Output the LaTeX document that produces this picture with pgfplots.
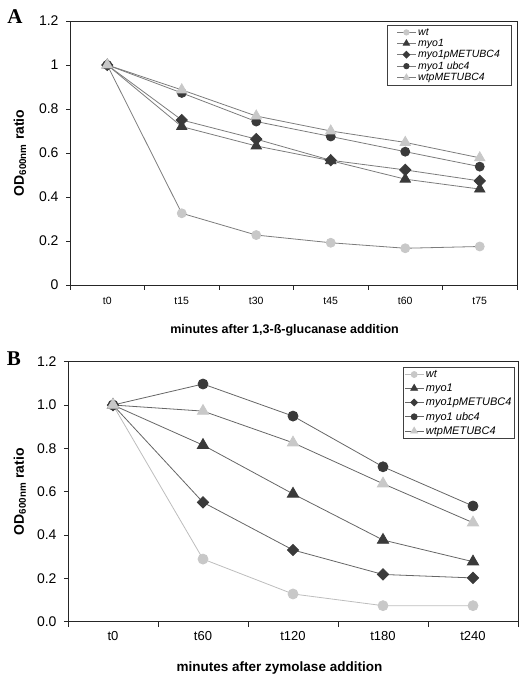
\documentclass[border=0pt]{standalone}
\usepackage{fontspec}
\setmainfont{Liberation Sans}
\newfontfamily\seriffont{Liberation Serif}
\usepackage{pgfplots}
\pgfplotsset{compat=1.18}
\definecolor{lgray}{HTML}{C8C8C8}
\definecolor{dgray}{HTML}{3A3A3A}
\definecolor{lineg}{HTML}{7C7C7C}
\definecolor{linel}{HTML}{BDBDBD}

\pgfplotstableread{
x wt myo dia circ wtp
0 1 1 1 1 1
1 0.326 0.720 0.750 0.873 0.887
2 0.227 0.632 0.663 0.743 0.768
3 0.192 0.565 0.567 0.675 0.700
4 0.167 0.481 0.523 0.606 0.648
5 0.175 0.436 0.473 0.538 0.578
}\tableA
\pgfplotstableread{
x wt myo dia circ wtp
0 1 1 1 1 1
1 0.289 0.815 0.551 1.097 0.972
2 0.128 0.590 0.331 0.949 0.826
3 0.074 0.377 0.218 0.715 0.637
4 0.074 0.277 0.202 0.534 0.457
}\tableB

\pgfplotsset{
  common/.style={
    scale only axis,
    /pgf/number format/assume math mode=true,
    axis line style={draw=black!85, line width=0.9pt},
    ytick pos=left, xtick pos=bottom,
    tick align=outside,
    major tick length=4pt, minor tick length=5pt,
    ytick style={draw=black!85, line width=0.8pt},
    major x tick style={draw=none},
    minor x tick style={draw=black!85, line width=0.8pt},
    ymin=0, ymax=1.2, ytick={0,0.2,...,1.2},
    yticklabel style={font=\fontsize{14}{14}\selectfont, xshift=-4pt},
    ylabel={\bfseries OD\textsubscript{600nm} ratio},
    ylabel style={font=\fontsize{14}{14}\selectfont, anchor=center},
    xlabel style={font=\bfseries\fontsize{13}{13}\selectfont, anchor=center},
    legend cell align=left,
    legend style={draw=black!75, line width=0.6pt, inner sep=1pt, font=\itshape\fontsize{10}{10}\selectfont, anchor=north east, row sep=-1.5pt},
    legend image code/.code={\draw[mark repeat=2,mark phase=2] plot coordinates {(0cm,0cm)(0.55cm,0cm)(1.1cm,0cm)};},
    legend image post style={scale=0.6},
  },
  swt/.style={color=lineg, line width=0.8pt, mark=*, mark size=4.5pt, mark options={draw=lgray, fill=lgray}},
  smyo/.style={color=lineg, line width=0.8pt, mark=triangle*, mark size=6pt, mark options={draw=dgray, fill=dgray}},
  sdia/.style={color=lineg, line width=0.8pt, mark=square*, mark size=4pt, mark options={draw=dgray, fill=dgray, rotate=45}},
  scirc/.style={color=lineg, line width=0.8pt, mark=*, mark size=4.5pt, mark options={draw=dgray, fill=dgray}},
  swtp/.style={color=lineg, line width=0.8pt, mark=triangle*, mark size=6pt, mark options={draw=lgray, fill=lgray}},
}

\begin{document}
\begin{tikzpicture}[x=1pt,y=1pt]
\path[use as bounding box] (0,0) rectangle (526,683);
\node[font=\seriffont\bfseries\fontsize{21}{21}\selectfont] at (15,666) {A};
\node[font=\seriffont\bfseries\fontsize{21}{21}\selectfont] at (14,324) {B};

\begin{axis}[common,
  at={(70pt,398pt)}, anchor=south west, width=447pt, height=264pt,
  xmin=-0.5, xmax=5.5, xtick={0,...,5},
  xticklabels={t0,t15,t30,t45,t60,t75},
  minor xtick={-0.5,0.5,...,5.5},
  xticklabel style={font=\fontsize{10.5}{10.5}\selectfont, yshift=-5pt},
  yticklabel style={/pgf/number format/.cd, fixed},
  xlabel={minutes after 1,3-ß-glucanase addition},
  xlabel style={at={(axis description cs:0.48,-0.17)}, font=\bfseries\fontsize{12.5}{12.5}\selectfont},
  ylabel style={at={(axis description cs:-0.112,0.5)}},
  legend style={at={(0.987,0.985)}, inner xsep=9pt, font=\itshape\fontsize{10.5}{10.5}\selectfont},
]
\addplot[swt] table[x=x,y=wt] {\tableA};
\addplot[smyo] table[x=x,y=myo] {\tableA};
\addplot[sdia] table[x=x,y=dia] {\tableA};
\addplot[scirc] table[x=x,y=circ] {\tableA};
\addplot[swtp] table[x=x,y=wtp] {\tableA};
\legend{wt,myo1,myo1pMETUBC4,myo1 ubc4,wtpMETUBC4}
\end{axis}

\begin{axis}[common,
  at={(68pt,61.3pt)}, anchor=south west, width=450pt, height=260pt,
  xmin=-0.5, xmax=4.5, xtick={0,...,4},
  xticklabels={t0,t60,t120,t180,t240},
  minor xtick={-0.5,0.5,...,4.5},
  xticklabel style={font=\fontsize{13}{13}\selectfont, yshift=-2pt},
  yticklabel style={/pgf/number format/.cd, fixed, fixed zerofill, precision=1},
  xlabel={minutes after zymolase addition},
  xlabel style={at={(axis description cs:0.47,-0.178)}, font=\bfseries\fontsize{13.5}{13.5}\selectfont},
  ylabel style={at={(axis description cs:-0.107,0.5)}},
  legend style={at={(0.993,0.98)}, font=\itshape\fontsize{11}{11}\selectfont, row sep=1pt},
]
\addplot[swt, color=linel, mark size=5pt] table[x=x,y=wt] {\tableB};
\addplot[smyo, color=black!60, mark size=6.5pt] table[x=x,y=myo] {\tableB};
\addplot[sdia, color=black!60] table[x=x,y=dia] {\tableB};
\addplot[scirc, color=black!60, mark size=5pt] table[x=x,y=circ] {\tableB};
\addplot[swtp, color=black!60, mark size=6.5pt] table[x=x,y=wtp] {\tableB};
\legend{wt,myo1,myo1pMETUBC4,myo1 ubc4,wtpMETUBC4}
\end{axis}
\end{tikzpicture}
\end{document}
